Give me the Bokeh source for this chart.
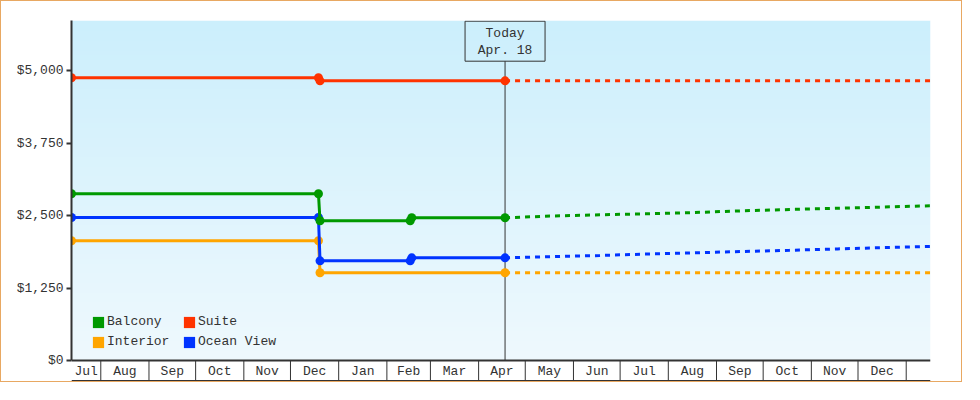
import numpy as np
import pandas as pd
from bokeh.plotting import figure
from bokeh.models import Range1d, FixedTicker, NumeralTickFormatter, Legend, LegendItem
from bokeh.core.properties import value
from bokeh.embed import file_html
from bokeh.resources import INLINE

# ---------------- data ----------------
month_labels = ["Jul", "Aug", "Sep", "Oct", "Nov", "Dec", "Jan", "Feb", "Mar",
                "Apr", "May", "Jun", "Jul", "Aug", "Sep", "Oct", "Nov", "Dec"]
month_starts = ["2017-07-01", "2017-08-01", "2017-09-01", "2017-10-01", "2017-11-01",
                "2017-12-01", "2018-01-01", "2018-02-01", "2018-03-01", "2018-04-01",
                "2018-05-01", "2018-06-01", "2018-07-01", "2018-08-01", "2018-09-01",
                "2018-10-01", "2018-11-01", "2018-12-01", "2019-01-01", "2019-02-01"]
x_start = "2017-07-13 04:00"
x_end = "2019-01-16 15:00"
today = "2018-04-18"
today_label = ["Today", "Apr. 18"]
y_ticks = [0, 1250, 2500, 3750, 5000]
y_max = 5868

series_names = ["Balcony", "Interior", "Suite", "Ocean View"]
series_colors = {"Balcony": "#009900", "Interior": "#ffa500",
                 "Suite": "#ff3300", "Ocean View": "#0033ff"}

balcony_dates = ["2017-07-13 04:00", "2017-12-19", "2017-12-20", "2018-02-16", "2018-02-17", "2018-04-18"]
balcony_prices = [2877, 2877, 2411, 2411, 2463, 2463]
ocean_dates = ["2017-07-13 04:00", "2017-12-19", "2017-12-20", "2018-02-16", "2018-02-17", "2018-04-18"]
ocean_prices = [2468, 2468, 1720, 1720, 1772, 1772]
interior_dates = ["2017-07-13 04:00", "2017-12-19", "2017-12-20", "2018-04-18"]
interior_prices = [2066, 2066, 1514, 1514]
suite_dates = ["2017-07-13 04:00", "2017-12-19", "2017-12-20", "2018-04-18"]
suite_prices = [4879, 4879, 4827, 4827]

forecast_dates = ["2018-04-18", "2018-05-18", "2018-06-18", "2018-07-18", "2018-08-18",
                  "2018-09-18", "2018-10-18", "2018-11-18", "2018-12-18", "2019-01-16 15:00"]
balcony_forecast = [2463, 2494, 2515, 2532, 2554, 2584, 2606, 2627, 2649, 2670]
ocean_forecast = [1772, 1792, 1812, 1838, 1859, 1881, 1902, 1926, 1949, 1968]
interior_forecast = [1514, 1514, 1514, 1514, 1514, 1514, 1514, 1514, 1514, 1514]
suite_forecast = [4827, 4827, 4827, 4827, 4827, 4827, 4827, 4827, 4827, 4827]


def ms(dates):
    return [int(pd.Timestamp(d).value // 1_000_000) for d in dates]


FONT = "Liberation Mono"
INK = "#333333"

X0, X1 = ms([x_start, x_end])
T = ms([today])[0]

# vertical layout: frame top -> y_max (340 px above $0), 21 px below $0 for month band
k = 340 / y_max            # px per dollar
y_min = -21 / k

p = figure(width=962, height=382, output_backend="svg", toolbar_location=None,
           x_range=Range1d(X0, X1), y_range=Range1d(y_min, y_max),
           min_border_left=70, min_border_right=33, min_border_top=19, min_border_bottom=2,
           background_fill_color="white", border_fill_color="white",
           outline_line_color=None,
           styles={"border": "1px solid #e8a862"})
p.xaxis.visible = False
p.grid.visible = False

# background gradient (plot area only, from $0 upward)
N = 340
top_c = np.array([204, 239, 252], dtype=float)
bot_c = np.array([239, 249, 254], dtype=float)
t = np.linspace(0, 1, N)[:, None]
cols = (bot_c * (1 - t) + top_c * t).astype(np.uint8)
img = np.empty((N, 1), dtype=np.uint32)
view = img.view(dtype=np.uint8).reshape((N, 1, 4))
view[:, 0, 0:3] = cols
view[:, 0, 3] = 255
p.image_rgba(image=[img], x=X0, y=0, dw=X1 - X0, dh=y_max)

# y axis
ax = p.yaxis[0]
ax.ticker = FixedTicker(ticks=y_ticks)
ax.formatter = NumeralTickFormatter(format="$0,0")
ax.bounds = (0, y_max)
ax.axis_line_color = INK
ax.axis_line_width = 2
ax.major_tick_line_color = INK
ax.major_tick_line_width = 2
ax.major_tick_out = 5
ax.major_tick_in = 0
ax.minor_tick_line_color = None
ax.major_label_text_font = FONT
ax.major_label_text_font_size = "13px"
ax.major_label_text_color = INK
ax.major_label_standoff = 3

# x axis band (month cells)
starts = ms(month_starts)
band_bottom = -20 / k
p.segment(x0=[X0], y0=[0], x1=[X1], y1=[0], line_color=INK, line_width=2)
p.segment(x0=[X0], y0=[band_bottom], x1=[X1], y1=[band_bottom], line_color=INK, line_width=1)
seps = [s for s in starts if X0 < s < X1]
p.segment(x0=seps, y0=[0] * len(seps), x1=seps, y1=[band_bottom] * len(seps),
          line_color=INK, line_width=1)
centers = []
for i in range(len(month_labels)):
    lo = max(starts[i], X0)
    hi = min(starts[i + 1], X1)
    centers.append((lo + hi) / 2)
p.text(x=centers, y=[-10.5 / k] * len(centers), text=month_labels,
       text_align="center", text_baseline="middle", text_font=value(FONT),
       text_font_size="13px", text_color=INK)

# today marker
box_h = 40
p.segment(x0=[T], y0=[0], x1=[T], y1=[y_max - (box_h + 0.7) / k], line_color=INK, line_width=1)
p.rect(x=[T], y=[y_max - (box_h / 2 + 0.7) / k], width=80, height=box_h,
       width_units="screen", height_units="screen",
       fill_color=None, line_color=INK, line_width=1)
p.text(x=[T, T], y=[y_max - 12.7 / k, y_max - 30.3 / k], text=today_label,
       text_align="center", text_baseline="middle", text_font=value(FONT),
       text_font_size="13px", text_color=INK)

# series
hist = {"Balcony": (balcony_dates, balcony_prices),
        "Ocean View": (ocean_dates, ocean_prices),
        "Interior": (interior_dates, interior_prices),
        "Suite": (suite_dates, suite_prices)}
fc = {"Balcony": balcony_forecast, "Ocean View": ocean_forecast,
      "Interior": interior_forecast, "Suite": suite_forecast}
fx = ms(forecast_dates)

for name in ["Interior", "Ocean View", "Balcony", "Suite"]:
    c = series_colors[name]
    d, v = hist[name]
    xs = ms(d)
    p.line(fx, fc[name], line_color=c, line_width=3, line_dash="5 5")
    p.line(xs, v, line_color=c, line_width=3)
    p.scatter(xs, v, marker="circle", size=9, fill_color=c, line_color=None)

# legend (square swatches; area legend glyphs are inset by 10% per side)
items = []
for name in series_names:
    c = series_colors[name]
    r = p.quad(left=[X0], right=[X0], top=[0], bottom=[0], fill_color=c, line_color=None)
    items.append(LegendItem(label=name, renderers=[r]))
legend = Legend(items=items, location=(20, 32), orientation="vertical", nrows=2,
                background_fill_alpha=0, border_line_color=None, padding=0, margin=0,
                spacing=5, glyph_width=14, glyph_height=14, label_standoff=2,
                label_width=70, label_height=11, label_text_font=FONT,
                label_text_font_size="13px", label_text_color=INK)
p.add_layout(legend)

open("out.html", "w").write(file_html(p, INLINE))
